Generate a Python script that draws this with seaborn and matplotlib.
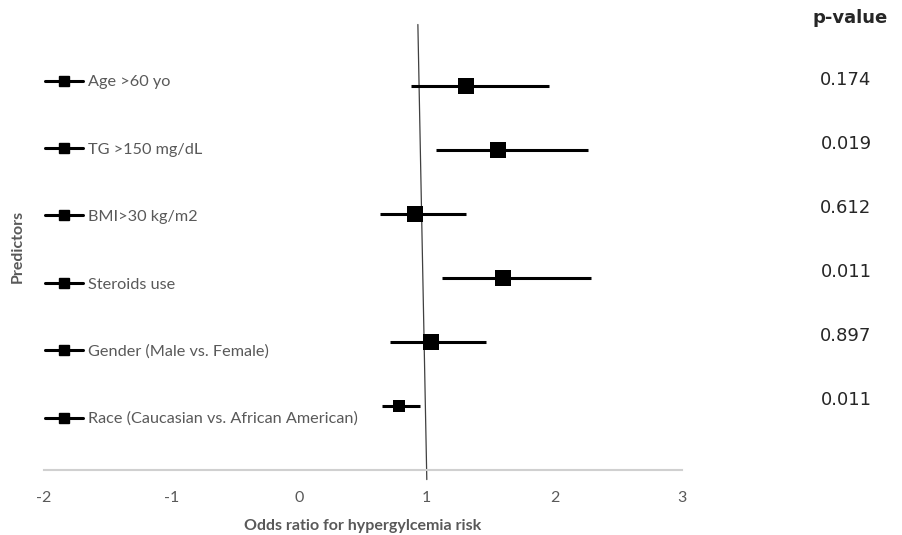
import matplotlib
matplotlib.use("Agg")
import matplotlib.pyplot as plt
from matplotlib.lines import Line2D
import seaborn as sns
import pandas as pd

# forest plot data
predictors = ["Age >60 yo", "TG >150 mg/dL", "BMI>30 kg/m2", "Steroids use",
              "Gender (Male vs. Female)", "Race (Caucasian vs. African American)"]
odds_ratio = [1.31, 1.56, 0.91, 1.60, 1.03, 0.78]
ci_low = [0.88, 1.07, 0.63, 1.12, 0.71, 0.65]
ci_high = [1.96, 2.26, 1.31, 2.29, 1.46, 0.95]
p_values = ["0.174", "0.019", "0.612", "0.011", "0.897", "0.011"]

df = pd.DataFrame({"Predictor": predictors, "OR": odds_ratio,
                   "lo": ci_low, "hi": ci_high, "p": p_values})
df["row"] = range(len(df), 0, -1)

sns.set_theme(style="white")
plt.rcParams["font.family"] = ["DejaVu Sans"]
plt.rcParams["axes.unicode_minus"] = False
grey = "#595959"

fig = plt.figure(figsize=(9.02, 5.35), dpi=100)
ax = fig.add_axes([0.0488, 0.1215, 0.7073, 0.8375])

# confidence intervals
ax.hlines(df["row"], df["lo"], df["hi"], color="black", lw=2.2, zorder=2)

# point estimates (race marker drawn smaller like the original)
big = df.iloc[:-1]
small = df.iloc[-1:]
sns.scatterplot(data=big, x="OR", y="row", marker="s", s=120, color="black",
                edgecolor="black", linewidth=0, ax=ax, zorder=3, legend=False)
sns.scatterplot(data=small, x="OR", y="row", marker="s", s=65, color="black",
                edgecolor="black", linewidth=0, ax=ax, zorder=3, legend=False)

# reference line at OR = 1 (slightly slanted as in the original)
ax.plot([0.93, 1.0], [6.96, -0.15], color="#404040", lw=0.9, zorder=1, clip_on=False)

ax.set_xlim(-2, 3)
ax.set_ylim(0, 7)
ax.set_xticks([-2, -1, 0, 1, 2, 3])
ax.set_yticks([])
ax.tick_params(axis="x", length=0, pad=15, labelsize=11.5, labelcolor=grey)
for lab in ax.get_xticklabels():
    lab.set_family("Lato")
for side in ["top", "right", "left"]:
    ax.spines[side].set_visible(False)
ax.spines["bottom"].set_color("#d0d0d0")
ax.spines["bottom"].set_linewidth(1.5)

ax.set_xlabel("Odds ratio for hypergylcemia risk", fontsize=11.5, fontweight="bold",
              color=grey, family="Lato", labelpad=10)
ax.set_ylabel("Predictors", fontsize=11.5, fontweight="bold", color=grey,
              family="Lato", labelpad=14)

# legend-style labels on the left
handles = [Line2D([0], [0], color="black", lw=2.2, marker="s", markersize=7)
           for _ in predictors]
leg = ax.legend(handles, predictors, loc="upper left", bbox_to_anchor=(-0.021, 0.914),
                frameon=False, handlelength=2.35, handletextpad=0.3,
                labelspacing=3.26, prop={"family": "Lato", "size": 11.7})
for t in leg.get_texts():
    t.set_color(grey)

# p-values column
ax.text(1.263, 1.008, "p-value", transform=ax.transAxes, fontsize=13,
        fontweight="bold", ha="center", va="center")
for r, p in zip(df["row"], df["p"]):
    ax.text(1.257, r + 0.09, p, transform=ax.get_yaxis_transform(), fontsize=13,
            ha="center", va="center")

fig.savefig("out.png", dpi=100)
